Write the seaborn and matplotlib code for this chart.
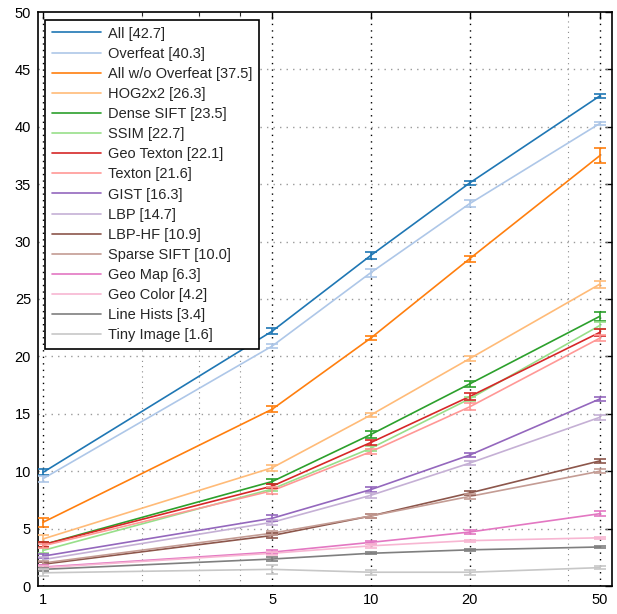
import matplotlib
matplotlib.use("Agg")
import matplotlib.pyplot as plt
from matplotlib.ticker import FixedLocator, FixedFormatter, NullFormatter
import numpy as np
import pandas as pd
import seaborn as sns

# number of nearest neighbours / top-k (log axis)
k_values = [1, 5, 10, 20, 50]

# accuracy (%) per feature at each k, and its standard deviation
all_feat = [9.9, 22.2, 28.8, 35.1, 42.7]
all_feat_err = [0.25, 0.25, 0.3, 0.15, 0.2]
overfeat = [9.35, 20.9, 27.3, 33.3, 40.3]
overfeat_err = [0.25, 0.2, 0.35, 0.3, 0.15]
all_wo_overfeat = [5.55, 15.4, 21.6, 28.5, 37.5]
all_wo_overfeat_err = [0.4, 0.25, 0.2, 0.25, 0.65]
hog2x2 = [4.1, 10.3, 14.9, 19.8, 26.3]
hog2x2_err = [0.3, 0.25, 0.2, 0.2, 0.3]
dense_sift = [3.6, 9.1, 13.2, 17.6, 23.5]
dense_sift_err = [0.2, 0.2, 0.3, 0.25, 0.4]
ssim = [3.1, 8.45, 12.0, 16.3, 22.7]
ssim_err = [0.2, 0.2, 0.2, 0.2, 0.3]
geo_texton = [3.6, 8.7, 12.5, 16.5, 22.1]
geo_texton_err = [0.2, 0.2, 0.2, 0.3, 0.3]
texton = [3.5, 8.3, 11.7, 15.6, 21.6]
texton_err = [0.2, 0.3, 0.2, 0.3, 0.3]
gist = [2.6, 5.9, 8.4, 11.4, 16.3]
gist_err = [0.2, 0.25, 0.25, 0.2, 0.2]
lbp = [2.3, 5.55, 7.9, 10.7, 14.7]
lbp_err = [0.2, 0.2, 0.2, 0.2, 0.2]
lbp_hf = [1.9, 4.4, 6.1, 8.1, 10.9]
lbp_hf_err = [0.2, 0.2, 0.15, 0.2, 0.2]
sparse_sift = [2.0, 4.6, 6.1, 7.8, 10.0]
sparse_sift_err = [0.2, 0.2, 0.2, 0.2, 0.15]
geo_map = [1.65, 2.95, 3.8, 4.7, 6.3]
geo_map_err = [0.15, 0.2, 0.15, 0.15, 0.2]
geo_color = [1.6, 2.85, 3.5, 3.95, 4.2]
geo_color_err = [0.1, 0.15, 0.15, 0.1, 0.1]
line_hists = [1.45, 2.35, 2.85, 3.15, 3.4]
line_hists_err = [0.15, 0.2, 0.1, 0.1, 0.1]
tiny_image = [1.15, 1.45, 1.2, 1.2, 1.6]
tiny_image_err = [0.3, 0.4, 0.2, 0.2, 0.15]

feature_names = ["All", "Overfeat", "All w/o Overfeat", "HOG2x2", "Dense SIFT",
                 "SSIM", "Geo Texton", "Texton", "GIST", "LBP", "LBP-HF",
                 "Sparse SIFT", "Geo Map", "Geo Color", "Line Hists", "Tiny Image"]
series_values = [all_feat, overfeat, all_wo_overfeat, hog2x2, dense_sift, ssim,
                 geo_texton, texton, gist, lbp, lbp_hf, sparse_sift, geo_map,
                 geo_color, line_hists, tiny_image]
series_errors = [all_feat_err, overfeat_err, all_wo_overfeat_err, hog2x2_err,
                 dense_sift_err, ssim_err, geo_texton_err, texton_err, gist_err,
                 lbp_err, lbp_hf_err, sparse_sift_err, geo_map_err, geo_color_err,
                 line_hists_err, tiny_image_err]

x_tick_labels = ["1", "5", "10", "20", "50"]
y_ticks = [0, 5, 10, 15, 20, 25, 30, 35, 40, 45, 50]

sns.set_style("white")
plt.rcParams["font.family"] = ["Liberation Sans", "DejaVu Sans"]

palette = sns.color_palette("tab20", 16)

# legend labels carry the accuracy at the largest k
labels = [f"{n} [{v[-1]:.1f}]" for n, v in zip(feature_names, series_values)]

rows = []
for lab, vals, errs in zip(labels, series_values, series_errors):
    for k, v, e in zip(k_values, vals, errs):
        rows.append({"k": k, "acc": v, "err": e, "feature": lab})
df = pd.DataFrame(rows)

W, H = 617, 614
fig = plt.figure(figsize=(W / 100, H / 100), dpi=100)
left, right, top, bottom = 38, 612, 12, 586
ax = fig.add_axes([left / W, 1 - bottom / H, (right - left) / W, (bottom - top) / H])
ax.set_xscale("log")

sns.lineplot(data=df, x="k", y="acc", hue="feature", hue_order=labels,
             palette=palette, linewidth=1.2, errorbar=None, sort=False,
             ax=ax, zorder=3)

for i, lab in enumerate(labels):
    sub = df[df["feature"] == lab]
    ax.errorbar(sub["k"], sub["acc"], yerr=sub["err"], fmt="none",
                ecolor=palette[i], elinewidth=1.2, capsize=4.3, capthick=1.2,
                zorder=3)

ax.set_xlim(0.965, 54.4)
ax.set_ylim(0, 50)

# grid: black dotted at major k ticks, gray dotted at minor ticks and y ticks
dots = (0, (1, 3.7))
for x in k_values:
    ax.axvline(x, color="black", linewidth=1.0, linestyle=dots, zorder=1)
for x in [2, 3, 4, 40]:
    ax.axvline(x, color="#8a8a8a", linewidth=0.8, linestyle=dots, zorder=1)
for y in y_ticks[1:-1]:
    ax.axhline(y, color="#9a9a9a", linewidth=1.0, linestyle=dots, zorder=1)

ax.xaxis.set_major_locator(FixedLocator(k_values))
ax.xaxis.set_major_formatter(FixedFormatter(x_tick_labels))
ax.xaxis.set_minor_locator(FixedLocator([2, 3, 4, 40]))
ax.xaxis.set_minor_formatter(NullFormatter())
ax.set_yticks(y_ticks)
ax.set_yticklabels([str(t) for t in y_ticks])
ax.tick_params(which="major", direction="in", top=True, right=True,
               length=5, width=1.0, labelsize=10.5, pad=5, colors="black")
ax.tick_params(which="minor", direction="in", top=True, right=True,
               length=3, width=0.8)
ax.set_xlabel("")
ax.set_ylabel("")
for s in ax.spines.values():
    s.set_linewidth(1.2)
    s.set_color("black")

handles, hl = ax.get_legend_handles_labels()
handles = handles[:len(labels)]
ax_w, ax_h = right - left, bottom - top
leg = ax.legend(handles, labels, loc="upper left",
                bbox_to_anchor=(7 / ax_w, 1 - 8 / ax_h), borderaxespad=0,
                frameon=True, fancybox=False, framealpha=1, edgecolor="black",
                fontsize=10.5, handlelength=3.4, handletextpad=0.5,
                labelspacing=0.42, borderpad=0.45)
leg.get_frame().set_linewidth(1.2)
leg.set_zorder(10)

fig.savefig("out.png", dpi=100)
